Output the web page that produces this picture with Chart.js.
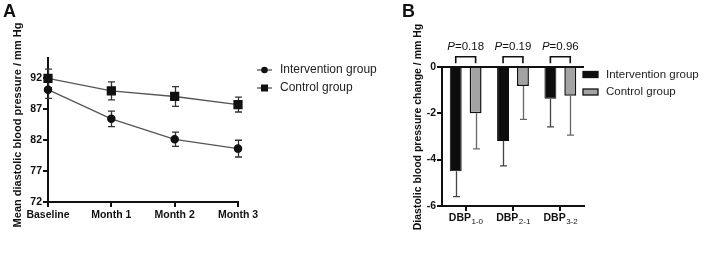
<!DOCTYPE html>
<html>
<head>
<meta charset="utf-8">
<script src="https://cdn.jsdelivr.net/npm/chart.js@4.4.0/dist/chart.umd.min.js"></script>
<style>
  body { margin: 0; background: #fff; width: 709px; height: 254px; overflow: hidden; position: relative; font-family: "Liberation Sans", Arial, sans-serif; }
  #wrapA { position: absolute; left: 0; top: 0; width: 400px; height: 254px; }
  #wrapB { position: absolute; left: 395px; top: 0; width: 314px; height: 254px; }
  .tag { position: absolute; font-weight: bold; font-size: 18px; color: #111; line-height: 1; }
</style>
</head>
<body>
<div id="wrapA"><canvas id="chartA" width="400" height="254"></canvas></div>
<div id="wrapB"><canvas id="chartB" width="314" height="254"></canvas></div>
<div class="tag" style="left:3px;top:2px">A</div>
<div class="tag" style="left:402px;top:2px">B</div>
<script>
// panel A: mean DBP over time
const months = ["Baseline", "Month 1", "Month 2", "Month 3"];
const interventionMean = [90.1, 85.4, 82.1, 80.6];
const interventionSd = [1.4, 1.25, 1.15, 1.35];
const controlMean = [91.9, 89.9, 89.0, 87.7];
const controlSd = [1.5, 1.45, 1.6, 1.2];
const meanTicks = [72, 77, 82, 87, 92];

// panel B: change in DBP
const dbpMain = ["DBP", "DBP", "DBP"];
const dbpSub = ["1-0", "2-1", "3-2"];
const interventionChange = [-4.5, -3.2, -1.38];
const interventionChangeSd = [1.1, 1.07, 1.21];
const controlChange = [-2.0, -0.83, -1.25];
const controlChangeSd = [1.54, 1.44, 1.7];
const pValues = ["0.18", "0.19", "0.96"];
const changeTicks = [-6, -4, -2, 0];

const FONT = "'Liberation Sans', Arial, sans-serif";
Chart.defaults.font.family = FONT;
Chart.defaults.color = "#111";

const errorBars = {
  id: "errorBars",
  beforeDatasetsDraw(chart, args, opts) {
    if (opts.oneSided) return;
    drawErrors(chart, false);
  },
  afterDatasetsDraw(chart, args, opts) {
    if (!opts.oneSided) return;
    drawErrors(chart, true);
  }
};

function drawErrors(chart, oneSided) {
  const ctx = chart.ctx;
  const y = chart.scales.y;
  chart.data.datasets.forEach((ds, i) => {
    const meta = chart.getDatasetMeta(i);
    ctx.save();
    ctx.strokeStyle = ds.errColor;
    ctx.lineWidth = 1.3;
    meta.data.forEach((el, j) => {
      const v = ds.data[j], s = ds.sd[j];
      const top = y.getPixelForValue(oneSided ? v : v + s);
      const bot = y.getPixelForValue(v - s);
      const x = Math.round(el.x) + 0.5;
      ctx.beginPath();
      ctx.moveTo(x, top); ctx.lineTo(x, bot);
      ctx.moveTo(x - 3.5, bot); ctx.lineTo(x + 3.5, bot);
      if (!oneSided) { ctx.moveTo(x - 3.5, top); ctx.lineTo(x + 3.5, top); }
      ctx.stroke();
    });
    ctx.restore();
  });
}

const sideText = {
  id: "sideText",
  afterDraw(chart, args, opts) {
    const ctx = chart.ctx;
    ctx.save();
    // rotated y title
    ctx.translate(opts.titleX, opts.titleY);
    ctx.rotate(-Math.PI / 2);
    ctx.font = "bold " + opts.titleSize + "px " + FONT;
    ctx.fillStyle = "#111";
    ctx.textAlign = "center";
    ctx.textBaseline = "middle";
    ctx.fillText(opts.title, 0, 0);
    ctx.restore();

    // legend
    ctx.save();
    ctx.font = opts.legendSize + "px " + FONT;
    ctx.textBaseline = "middle";
    chart.data.datasets.forEach((ds, i) => {
      const yy = opts.legendY + i * opts.legendGap;
      const x0 = opts.legendX;
      if (opts.kind === "line") {
        ctx.strokeStyle = ds.borderColor;
        ctx.lineWidth = 1.3;
        ctx.beginPath(); ctx.moveTo(x0, yy); ctx.lineTo(x0 + 15, yy); ctx.stroke();
        ctx.fillStyle = "#111";
        if (ds.pointStyle === "circle") {
          ctx.beginPath(); ctx.arc(x0 + 7.5, yy, 3.3, 0, Math.PI * 2); ctx.fill();
        } else {
          ctx.fillRect(x0 + 4, yy - 3.5, 7, 7);
        }
      } else {
        ctx.fillStyle = ds.backgroundColor;
        ctx.fillRect(x0, yy - 3, 15, 6);
        ctx.strokeStyle = "#111";
        ctx.lineWidth = 1.3;
        ctx.strokeRect(x0, yy - 3, 15, 6);
      }
      ctx.fillStyle = "#222";
      ctx.fillText(ds.label, x0 + opts.textGap, yy);
    });
    ctx.restore();
  }
};

new Chart(document.getElementById("chartA"), {
  type: "line",
  data: {
    labels: months,
    datasets: [
      {
        label: "Intervention group",
        data: interventionMean,
        sd: interventionSd,
        errColor: "#333",
        borderColor: "#555",
        borderWidth: 1.3,
        pointStyle: "circle",
        pointRadius: 3.6,
        pointBackgroundColor: "#111",
        pointBorderColor: "#111",
        tension: 0
      },
      {
        label: "Control group",
        data: controlMean,
        sd: controlSd,
        errColor: "#333",
        borderColor: "#555",
        borderWidth: 1.3,
        pointStyle: "rect",
        pointRadius: 5.6,
        pointBackgroundColor: "#111",
        pointBorderColor: "#111",
        tension: 0
      }
    ]
  },
  options: {
    responsive: false,
    animation: false,
    layout: { padding: { left: 0, top: 58, right: 162, bottom: 0 } },
    plugins: {
      legend: { display: false },
      tooltip: { enabled: false },
      errorBars: { oneSided: false },
      sideText: {
        title: "Mean diastolic blood pressure / mm Hg",
        titleX: 18, titleY: 125, titleSize: 11,
        kind: "line", legendX: 257, legendY: 70, legendGap: 18, textGap: 23, legendSize: 12
      }
    },
    scales: {
      x: {
        afterFit: (s) => { s.height = 52; },
        border: { color: "#111", width: 2 },
        grid: { drawOnChartArea: false, color: "#111", lineWidth: 2, tickLength: 5 },
        ticks: { font: { size: 10.5, weight: "bold" }, padding: 2, color: "#111", maxRotation: 0 }
      },
      y: {
        min: 72,
        max: 95.2,
        afterFit: (s) => { s.width = 48; },
        afterBuildTicks: (axis) => { axis.ticks = meanTicks.map((v) => ({ value: v })); },
        border: { color: "#111", width: 2 },
        grid: { drawOnChartArea: false, color: "#111", lineWidth: 2, tickLength: 5 },
        ticks: { font: { size: 10.5, weight: "bold" }, padding: 1, color: "#111" }
      }
    }
  },
  plugins: [errorBars, sideText]
});

const pBrackets = {
  id: "pBrackets",
  afterDraw(chart) {
    const ctx = chart.ctx;
    const m0 = chart.getDatasetMeta(0), m1 = chart.getDatasetMeta(1);
    const top = chart.chartArea.top;
    ctx.save();
    pValues.forEach((p, i) => {
      const xa = m0.data[i].x, xb = m1.data[i].x;
      ctx.strokeStyle = "#111";
      ctx.lineWidth = 1.6;
      ctx.beginPath();
      ctx.moveTo(xa, top - 3.5); ctx.lineTo(xa, top - 10); ctx.lineTo(xb, top - 10); ctx.lineTo(xb, top - 3.5);
      ctx.stroke();
      // "P=0.18" with italic P
      const cx = (xa + xb) / 2;
      ctx.textBaseline = "middle";
      ctx.font = "italic 11.5px " + FONT;
      const wP = ctx.measureText("P").width;
      ctx.font = "11.5px " + FONT;
      const rest = "=" + p;
      const wR = ctx.measureText(rest).width;
      const x0 = cx - (wP + wR) / 2;
      ctx.fillStyle = "#111";
      ctx.textAlign = "left";
      ctx.font = "italic 11.5px " + FONT;
      ctx.fillText("P", x0, top - 19.5);
      ctx.font = "11.5px " + FONT;
      ctx.fillText(rest, x0 + wP, top - 19.5);
    });
    ctx.restore();

    // x labels with subscripts
    const xs = chart.scales.x;
    ctx.save();
    ctx.fillStyle = "#111";
    ctx.textBaseline = "middle";
    ctx.textAlign = "left";
    dbpMain.forEach((lab, i) => {
      const cx = xs.getPixelForValue(i);
      ctx.font = "bold 10.5px " + FONT;
      const w1 = ctx.measureText(lab).width;
      ctx.font = "8px " + FONT;
      const w2 = ctx.measureText(dbpSub[i]).width;
      const x0 = cx - (w1 + w2) / 2;
      const yy = xs.bottom - 36;
      ctx.font = "bold 10.5px " + FONT;
      ctx.fillText(lab, x0, yy);
      ctx.font = "8px " + FONT;
      ctx.fillText(dbpSub[i], x0 + w1 + 0.5, yy + 3.5);
    });
    ctx.restore();
  }
};

new Chart(document.getElementById("chartB"), {
  type: "bar",
  data: {
    labels: dbpMain.map((m, i) => m + dbpSub[i]),
    datasets: [
      {
        label: "Intervention group",
        data: interventionChange,
        sd: interventionChangeSd,
        errColor: "#444",
        backgroundColor: "#0d0d0d",
        borderColor: "#0d0d0d",
        borderWidth: 1,
        barPercentage: 0.6,
        categoryPercentage: 0.84
      },
      {
        label: "Control group",
        data: controlChange,
        sd: controlChangeSd,
        errColor: "#666",
        backgroundColor: "#a3a3a3",
        borderColor: "#111",
        borderWidth: 1.5,
        barPercentage: 0.6,
        categoryPercentage: 0.84
      }
    ]
  },
  options: {
    responsive: false,
    animation: false,
    layout: { padding: { left: 0, top: 66.7, right: 125, bottom: 0 } },
    plugins: {
      legend: { display: false },
      tooltip: { enabled: false },
      errorBars: { oneSided: true },
      sideText: {
        title: "Diastolic blood pressure change / mm Hg",
        titleX: 23, titleY: 127, titleSize: 10.5,
        kind: "bar", legendX: 188, legendY: 74.5, legendGap: 17.5, textGap: 23, legendSize: 11.5
      }
    },
    scales: {
      x: {
        afterFit: (s) => { s.height = 48; },
        border: { color: "#111", width: 2 },
        grid: { drawOnChartArea: false, offset: false, color: "#111", lineWidth: 2, tickLength: 5 },
        ticks: { display: false }
      },
      y: {
        min: -6,
        max: 0,
        afterFit: (s) => { s.width = 47; },
        afterBuildTicks: (axis) => { axis.ticks = changeTicks.map((v) => ({ value: v })); },
        border: { color: "#111", width: 2 },
        grid: {
          color: (c) => (c.tick && c.tick.value === 0 ? "#111" : "rgba(0,0,0,0)"),
          tickColor: "#111",
          lineWidth: 2,
          tickLength: 5
        },
        ticks: { font: { size: 10.5, weight: "bold" }, padding: 1, color: "#111" }
      }
    }
  },
  plugins: [errorBars, sideText, pBrackets]
});
</script>
</body>
</html>
